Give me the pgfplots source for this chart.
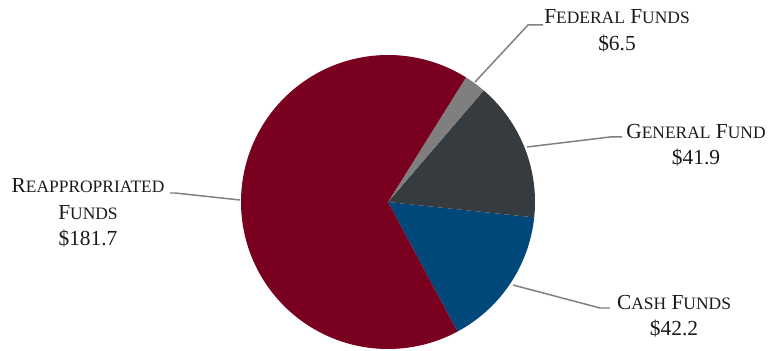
\documentclass[border=0pt]{standalone}
\usepackage{pgfplots}
\pgfplotsset{compat=1.18}
\usepackage{fontspec}
\setmainfont{Liberation Serif}
\definecolor{reap}{HTML}{7A0020}
\definecolor{genc}{HTML}{353B3E}
\definecolor{cashc}{HTML}{00487A}
\definecolor{fedc}{HTML}{7F7F7F}
\definecolor{leader}{HTML}{808080}
\definecolor{txt}{HTML}{1A1A1A}
\newcommand\fsc[2]{{\fontsize{21.5}{26.5}\selectfont #1}{\fontsize{17.5}{26.5}\selectfont #2}}
\tikzset{lbl/.style={font=\fontsize{21.5}{26.5}\selectfont, text=txt, align=center, inner sep=0pt}}
% values
\def\vCash{42.2}
\def\vGen{41.9}
\def\vFed{6.5}
\def\vReap{181.7}
\pgfmathsetmacro{\tot}{\vCash+\vGen+\vFed+\vReap}
\pgfmathsetmacro{\aA}{-61.8}
\pgfmathsetmacro{\aB}{\aA+\vCash/\tot*360}
\pgfmathsetmacro{\aC}{\aB+\vGen/\tot*360}
\pgfmathsetmacro{\aD}{\aC+\vFed/\tot*360}
\pgfmathsetmacro{\aE}{\aD+\vReap/\tot*360}
\begin{document}
\begin{tikzpicture}
\begin{axis}[
  scale only axis, width=768bp, height=351bp,
  xmin=0, xmax=768, ymin=0, ymax=351,
  hide axis, clip=false,
]
\path (rel axis cs:0,0) rectangle (rel axis cs:1,1);
\addplot[fill=cashc, draw=none, domain=\aA:\aB, samples=60, variable=\t] ({388+147*cos(t)},{149+147*sin(t)}) -- (axis cs:388,149) -- cycle;
\addplot[fill=genc, draw=none, domain=\aB:\aC, samples=60, variable=\t] ({388+147*cos(t)},{149+147*sin(t)}) -- (axis cs:388,149) -- cycle;
\addplot[fill=fedc, draw=none, domain=\aC:\aD, samples=20, variable=\t] ({388+147*cos(t)},{149+147*sin(t)}) -- (axis cs:388,149) -- cycle;
\addplot[fill=reap, draw=none, domain=\aD:\aE, samples=200, variable=\t] ({388+147*cos(t)},{149+147*sin(t)}) -- (axis cs:388,149) -- cycle;
% leader lines
\addplot[leader, line width=1.5pt] coordinates {(475,269) (528,326) (543,326)};
\addplot[leader, line width=1.5pt] coordinates {(527,204) (610,214) (622,214)};
\addplot[leader, line width=1.5pt] coordinates {(513,66) (600,43) (610,43)};
\addplot[leader, line width=1.5pt] coordinates {(240,151) (175,158) (170,158)};
% labels
\node[lbl] at (axis cs:617,320) {\fsc{F}{EDERAL} \fsc{F}{UNDS}\\\$6.5};
\node[lbl] at (axis cs:696,206) {\fsc{G}{ENERAL} \fsc{F}{UND}\\\$41.9};
\node[lbl] at (axis cs:674,35) {\fsc{C}{ASH} \fsc{F}{UNDS}\\\$42.2};
\node[lbl] at (axis cs:88,138) {\fsc{R}{EAPPROPRIATED}\\\fsc{F}{UNDS}\\\$181.7};
\end{axis}
\end{tikzpicture}
\end{document}
